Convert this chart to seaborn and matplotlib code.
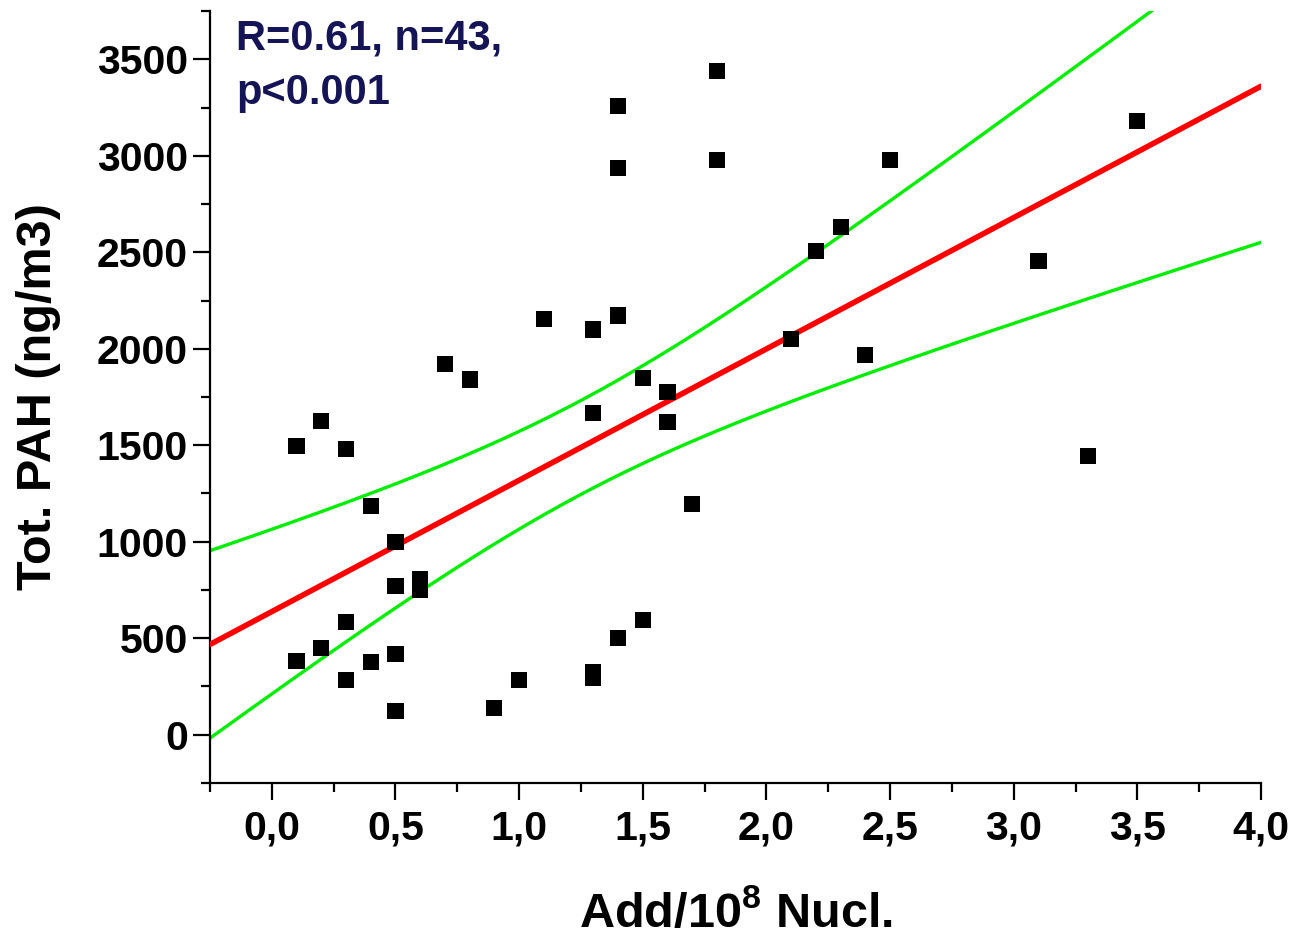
import numpy as np
import pandas as pd
import matplotlib
matplotlib.use("Agg")
import matplotlib.pyplot as plt
import seaborn as sns
from matplotlib.ticker import MultipleLocator, FuncFormatter

# ---- data ----
add_x = [0.1, 0.1, 0.2, 0.2, 0.3, 0.3, 0.3, 0.4, 0.4, 0.5, 0.5, 0.5, 0.5,
         0.6, 0.6, 0.7, 0.8, 0.9, 1.0, 1.1, 1.3, 1.3, 1.3, 1.3,
         1.4, 1.4, 1.4, 1.4, 1.5, 1.5, 1.6, 1.6, 1.7, 1.8, 1.8,
         2.1, 2.2, 2.3, 2.4, 2.5, 3.1, 3.3, 3.5]
pah_y = [1497, 384, 1626, 450, 1479, 583, 283, 1186, 376, 997, 769, 419, 124,
         806, 749, 1919, 1841, 138, 283, 2155, 2100, 1669, 325, 294,
         3259, 2935, 2172, 500, 1850, 596, 1778, 1622, 1195, 3440, 2978,
         2052, 2505, 2629, 1966, 2976, 2453, 1445, 3178]

x_ticks = [0.0, 0.5, 1.0, 1.5, 2.0, 2.5, 3.0, 3.5, 4.0]
y_ticks = [0, 500, 1000, 1500, 2000, 2500, 3000, 3500]
annotation = "R=0.61, n=43,\np<0.001"
x_label = r"Add/10$^{\mathbf{8}}$ Nucl."
y_label = "Tot. PAH (ng/m3)"

sns.set_style("ticks")
plt.rcParams["font.family"] = ["Liberation Sans", "DejaVu Sans"]
plt.rcParams["font.weight"] = "bold"
plt.rcParams["mathtext.fontset"] = "custom"
plt.rcParams["mathtext.bf"] = "Liberation Sans:bold"
plt.rcParams["mathtext.rm"] = "Liberation Sans:bold"
plt.rcParams["mathtext.default"] = "bf"

df = pd.DataFrame({"x": add_x, "y": pah_y})

# linear fit and 95% confidence band of the mean
xa = np.asarray(add_x, float)
ya = np.asarray(pah_y, float)
n = len(xa)
b, a = np.polyfit(xa, ya, 1)
resid = ya - (a + b * xa)
s = np.sqrt(np.sum(resid ** 2) / (n - 2))
sxx = np.sum((xa - xa.mean()) ** 2)
t_crit = 2.0195  # t(0.975, df=41)
grid = np.linspace(-0.25, 4.0, 300)
fit = a + b * grid
half = t_crit * s * np.sqrt(1.0 / n + (grid - xa.mean()) ** 2 / sxx)
band = pd.DataFrame({"x": grid, "fit": fit, "lo": fit - half, "hi": fit + half})

fig = plt.figure(figsize=(12.94, 9.36), dpi=100)
ax = fig.add_axes([0.1623, 0.1635, 0.8122, 0.8247])

sns.lineplot(data=band, x="x", y="hi", color="#00ee00", lw=2.4, ax=ax, zorder=2)
sns.lineplot(data=band, x="x", y="lo", color="#00ee00", lw=2.4, ax=ax, zorder=2)
sns.lineplot(data=band, x="x", y="fit", color="#ff0000", lw=4.0, ax=ax, zorder=3)
sns.scatterplot(data=df, x="x", y="y", marker="s", s=135, color="black",
                edgecolor="none", linewidth=0, ax=ax, zorder=4)

ax.set_xlim(-0.25, 4.0)
ax.set_ylim(-250, 3750)
ax.set_xticks(x_ticks)
ax.set_yticks(y_ticks)
ax.xaxis.set_minor_locator(MultipleLocator(0.25))
ax.yaxis.set_minor_locator(MultipleLocator(250))
ax.xaxis.set_major_formatter(FuncFormatter(lambda v, p: f"{v:.1f}".replace(".", ",")))
ax.yaxis.set_major_formatter(FuncFormatter(lambda v, p: f"{int(round(v))}"))

for side in ["top", "right"]:
    ax.spines[side].set_visible(False)
for side in ["left", "bottom"]:
    ax.spines[side].set_linewidth(1.6)
    ax.spines[side].set_color("black")

ax.tick_params(axis="both", which="major", direction="out", length=12, width=1.6,
               labelsize=29.5, colors="black")
ax.tick_params(axis="both", which="minor", direction="out", length=6.5, width=1.6,
               colors="black")
ax.tick_params(axis="x", which="major", pad=7)
ax.tick_params(axis="y", which="major", pad=4)
for lab in ax.get_xticklabels() + ax.get_yticklabels():
    lab.set_fontweight("bold")

ax.set_xlabel(x_label, fontsize=35, fontweight="bold", color="black", labelpad=31)
ax.set_ylabel(y_label, fontsize=35, fontweight="bold", color="black", labelpad=26)

ax.text(0.025, 0.99, annotation, transform=ax.transAxes, ha="left", va="top",
        fontsize=30, fontweight="bold", color="#141456", linespacing=1.45)

fig.savefig("out.png", dpi=100)
